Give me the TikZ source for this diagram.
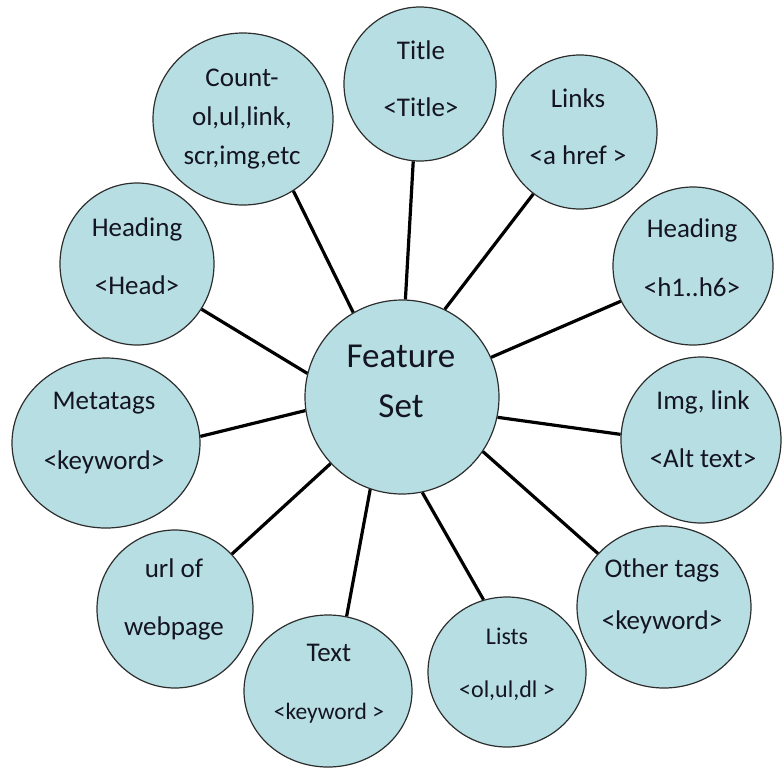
\documentclass[tikz,border=0pt]{standalone}
\usepackage{fontspec}
\setmainfont{Carlito}
\usetikzlibrary{shapes.geometric}
\definecolor{bubblefill}{RGB}{183,223,227}
\definecolor{bubbleline}{RGB}{45,45,45}
\definecolor{inktext}{RGB}{20,20,35}
\tikzset{
  bubble/.style={ellipse, draw=bubbleline, line width=1.2pt, fill=bubblefill,
                 inner sep=0pt, minimum width=#1},
  label27/.style={align=center, text=inktext, inner sep=0pt,
                  font=\fontsize{27}{#1}\selectfont},
  conn/.style={line width=3.2pt, black}
}
\begin{document}
\begin{tikzpicture}[x=1pt, y=-1pt]
\useasboundingbox (0,0) rectangle (782,769);

% central bubble
\node[bubble=194pt, minimum height=194pt] (fs) at (402,397) {};
\node[align=center, text=inktext, inner sep=0pt, font=\fontsize{35}{50}\selectfont] (fs-t) at (401,381) {Feature\\Set};

% outer bubbles
\node[bubble=152pt, minimum height=154pt] (title) at (420,84) {};
\node[label27=57] (title-t) at (421,79) {Title\\<Title>};

\node[bubble=180pt, minimum height=172pt] (count) at (243,119) {};
\node[label27=39] (count-t) at (242,119) {Count-\\ol,ul,link,\\scr,img,etc};

\node[bubble=154pt, minimum height=154pt] (links) at (580,132) {};
\node[label27=57] (links-t) at (578,127) {Links\\<a href >};

\node[bubble=160pt, minimum height=158pt] (hx) at (693,266) {};
\node[label27=59] (hx-t) at (692,258) {Heading\\<h1..h6>};

\node[bubble=154pt, minimum height=162pt] (head) at (137,264) {};
\node[label27=58] (head-t) at (137,256) {Heading\\<Head>};

\node[bubble=188pt, minimum height=170pt] (meta) at (106,443) {};
\node[label27=60] (meta-t) at (104,433) {Metatags\\<keyword>};

\node[bubble=160pt, minimum height=166pt] (img) at (701,440) {};
\node[label27=58] (img-t) at (703,429) {Img, link\\<Alt text>};

\node[bubble=174pt, minimum height=162pt] (other) at (664,607) {};
\node[label27=52] (other-t) at (662,596) {Other tags\\<keyword>};

\node[bubble=158pt, minimum height=150pt] (lists) at (507,672) {};
\node[align=center, text=inktext, inner sep=0pt, font=\fontsize{24}{53}\selectfont] (lists-t) at (507,664) {Lists\\<ol,ul,dl >};

\node[bubble=168pt, minimum height=152pt] (text) at (328,691) {};
\node[align=center, text=inktext, inner sep=0pt, font=\fontsize{27}{58}\selectfont] (text-t) at (329,684) {Text\\{\fontsize{23.5}{58}\selectfont <keyword >}};

\node[bubble=156pt, minimum height=158pt] (url) at (175,609) {};
\node[label27=58] (url-t) at (174,599) {url of\\webpage};

% spokes from the central bubble
\draw[conn] (title.265) -- (fs.88);
\draw[conn] (count.-55) -- (fs.120);
\draw[conn] (links.233) -- (fs.64);
\draw[conn] (hx.206) -- (fs.24);
\draw[conn] (head.-35) -- (fs.166);
\draw[conn] (meta.4) -- (fs.188);
\draw[conn] (img.176) -- (fs.-12);
\draw[conn] (other.141) -- (fs.-34);
\draw[conn] (lists.108) -- (fs.-78);
\draw[conn] (text.76) -- (fs.-109);
\draw[conn] (url.44) -- (fs.-137);
\end{tikzpicture}
\end{document}
